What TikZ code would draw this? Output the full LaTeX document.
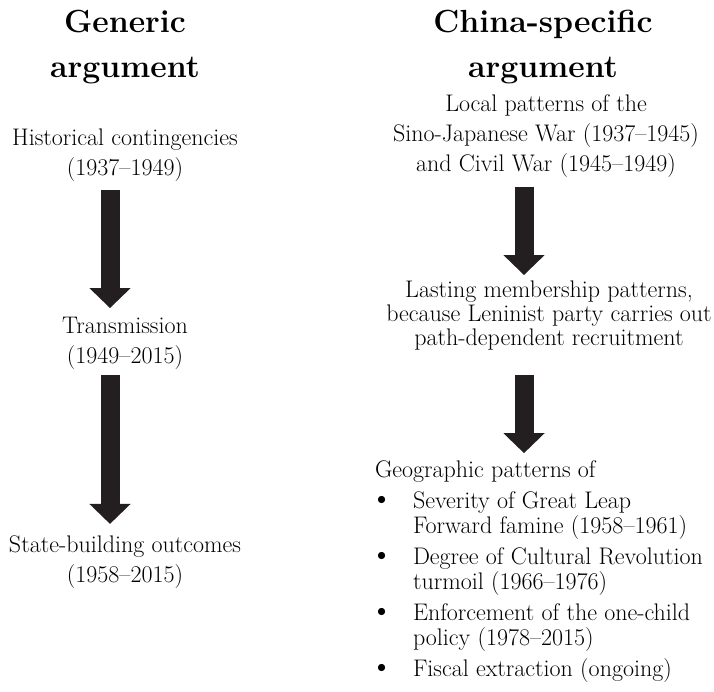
\documentclass[tikz,border=0pt]{standalone}
\usepackage{fontspec}
\usepackage{tikz}
\usetikzlibrary{arrows.meta}
\definecolor{arrowInk}{HTML}{231F20}
\newcommand{\itemGap}[0]{38pt}
\newcommand{\listBullet}[0]{\makebox[\itemGap][l]{\hspace{-5pt}{\fontsize{32}{25}\selectfont\textbullet}}}
\newcommand{\listIndent}[0]{\hspace*{\itemGap}}

\begin{document}
\begin{tikzpicture}[x=1pt, y=-1pt]
  \tikzset{every node/.style={inner sep=0pt, outer sep=0pt},
    colHead/.style={font=\fontsize{32}{45}\selectfont\bfseries, align=center, anchor=base},
    stage/.style={font=\fontsize{24}{30}\selectfont, align=center, anchor=base},
    flow/.style={line width=19pt, draw=arrowInk, -{Triangle[width=40pt, length=20pt]}}}
  \useasboundingbox (0,0) rectangle (714,691);
  \coordinate (genAxis) at (110,0);
  \coordinate (chinaAxis) at (524,0);
  \node[colHead] (genHead) at (125,77) {Generic\\argument};
  \node[colHead] (chinaHead) at (543,77) {China-specific\\argument};
  \node[stage] (histCont) at (125,175) {Historical contingencies\\(1937--1949)};
  \node[stage] (transmit) at (125,363) {Transmission\\(1949--2015)};
  \node[stage] (stateOut) at (125,582) {State-building outcomes\\(1958--2015)};
  \node[stage] (localWar) at (546,171) {Local patterns of the\\Sino-Japanese War (1937--1945)\\and Civil War (1945--1949)};
  \node[stage, font=\fontsize{24}{24}\selectfont] (lasting) at (549,345) {Lasting membership patterns,\\because Leninist party carries out\\path-dependent recruitment};
  \node[stage, font=\fontsize{24}{25}\selectfont, align=left, anchor=base west] (geoPatterns) at (375,676)
    {Geographic patterns of\\[6pt]
     \listBullet Severity of Great Leap\\
     \listIndent Forward famine (1958--1961)\\[6pt]
     \listBullet Degree of Cultural Revolution\\
     \listIndent turmoil (1966--1976)\\[6pt]
     \listBullet Enforcement of the one-child\\
     \listIndent policy (1978--2015)\\[6pt]
     \listBullet Fiscal extraction (ongoing)};
  \draw[flow, shorten <=9pt, shorten >=8.6pt] (histCont.south -| genAxis) -- (transmit.north -| genAxis);
  \draw[flow, shorten <=6pt, shorten >=11.3pt] (transmit.south -| genAxis) -- (stateOut.north -| genAxis);
  \draw[flow, shorten <=10pt, shorten >=5.3pt] (localWar.south -| chinaAxis) -- (lasting.north -| chinaAxis);
  \draw[flow, shorten <=25.3pt, shorten >=7pt] (lasting.south -| chinaAxis) -- (geoPatterns.north -| chinaAxis);
\end{tikzpicture}
\end{document}
